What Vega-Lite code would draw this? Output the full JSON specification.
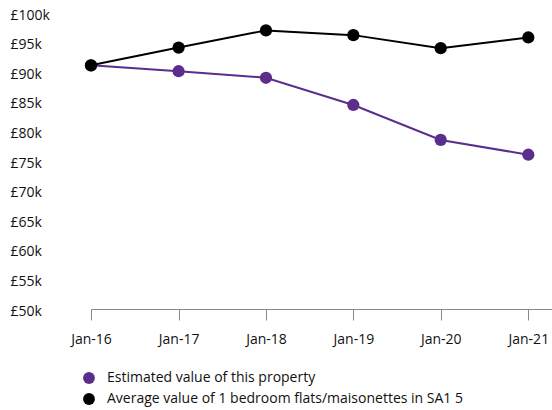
{
  "$schema": "https://vega.github.io/schema/vega-lite/v6.json",
  "autosize": "none",
  "width": 461,
  "height": 296,
  "padding": {"left": 91, "top": 15, "right": 0, "bottom": 99},
  "background": "white",
  "config": {
    "view": {"stroke": null},
    "font": "Open Sans",
    "axis": {"labelFont": "Open Sans", "labelFontSize": 14, "labelColor": "#111", "grid": false}
  },
  "data": {
    "values": [
      {"date": "2016-01-01", "series": "Estimated value of this property", "value": 91500},
      {"date": "2017-01-01", "series": "Estimated value of this property", "value": 90500},
      {"date": "2018-01-01", "series": "Estimated value of this property", "value": 89400},
      {"date": "2019-01-01", "series": "Estimated value of this property", "value": 84800},
      {"date": "2020-01-01", "series": "Estimated value of this property", "value": 78900},
      {"date": "2021-01-01", "series": "Estimated value of this property", "value": 76400},
      {"date": "2016-01-01", "series": "Average value of 1 bedroom flats/maisonettes in SA1 5", "value": 91500},
      {"date": "2017-01-01", "series": "Average value of 1 bedroom flats/maisonettes in SA1 5", "value": 94500},
      {"date": "2018-01-01", "series": "Average value of 1 bedroom flats/maisonettes in SA1 5", "value": 97400},
      {"date": "2019-01-01", "series": "Average value of 1 bedroom flats/maisonettes in SA1 5", "value": 96600},
      {"date": "2020-01-01", "series": "Average value of 1 bedroom flats/maisonettes in SA1 5", "value": 94400},
      {"date": "2021-01-01", "series": "Average value of 1 bedroom flats/maisonettes in SA1 5", "value": 96200}
    ]
  },
  "encoding": {
    "x": {
      "field": "date", "type": "temporal",
      "scale": {"domain": ["2016-01-01", "2021-04-10"]},
      "axis": {
        "title": null, "format": "%b-%y",
        "values": ["2016-01-01", "2017-01-01", "2018-01-01", "2019-01-01", "2020-01-01", "2021-01-01"],
        "domainColor": "#888", "tickColor": "#888", "tickSize": 11, "offset": -2,
        "labelPadding": 12, "labelAlign": "center", "labelOverlap": false
      }
    },
    "y": {
      "field": "value", "type": "quantitative",
      "scale": {"domain": [50000, 100000], "nice": false, "zero": false},
      "axis": {
        "title": null, "domain": false, "ticks": false,
        "values": [50000, 55000, 60000, 65000, 70000, 75000, 80000, 85000, 90000, 95000, 100000],
        "labelExpr": "'£' + datum.value/1000 + 'k'",
        "labelAlign": "left", "labelPadding": 81, "labelOverlap": false, "labelBound": false, "labelFlush": false
      }
    },
    "color": {
      "field": "series", "type": "nominal",
      "scale": {
        "domain": ["Estimated value of this property", "Average value of 1 bedroom flats/maisonettes in SA1 5"],
        "range": ["#5b2d8c", "#000000"]
      },
      "legend": {
        "title": null, "orient": "none", "legendX": -9, "legendY": 356,
        "symbolType": "circle", "symbolSize": 140, "symbolStrokeWidth": 0,
        "labelFont": "Open Sans", "labelFontSize": 14, "labelColor": "#111", "labelLimit": 0,
        "rowPadding": 7, "labelOffset": 11
      }
    }
  },
  "layer": [
    {"mark": {"type": "line", "strokeWidth": 2}},
    {"mark": {"type": "point", "filled": true, "size": 150, "opacity": 1}}
  ]
}
